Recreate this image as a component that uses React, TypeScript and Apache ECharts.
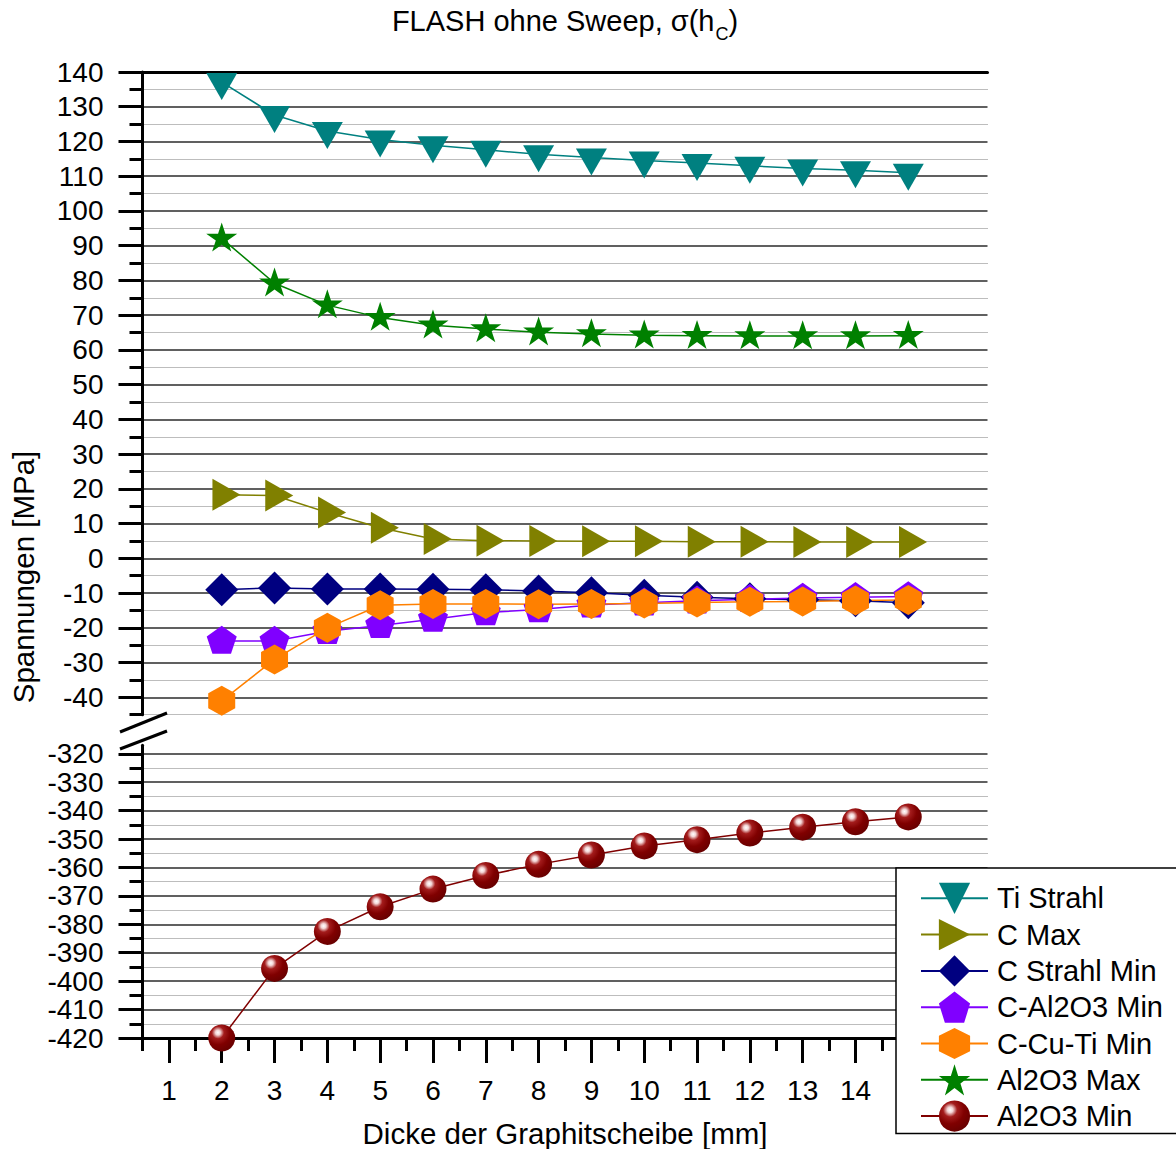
import React, { useEffect, useRef } from 'react';
import * as echarts from 'echarts';

// Graphite disc thickness [mm]
const thickness = [2, 3, 4, 5, 6, 7, 8, 9, 10, 11, 12, 13, 14, 15];

// Stresses [MPa]
const tiStrahl = [137.1, 127.6, 123.0, 120.6, 118.9, 117.6, 116.3, 115.4, 114.5, 113.8, 113.0, 112.2, 111.7, 111.0];
const cMax = [18.3, 18.1, 13.2, 8.8, 5.6, 5.1, 5.0, 4.9, 4.9, 4.8, 4.8, 4.7, 4.7, 4.7];
const cStrahlMin = [-9.0, -8.5, -8.8, -8.8, -8.9, -9.0, -9.4, -9.9, -10.6, -11.2, -11.6, -11.9, -12.2, -12.8];
const cAl2O3Min = [-23.8, -23.8, -21.0, -19.3, -17.5, -15.6, -14.7, -13.4, -12.8, -12.2, -11.8, -11.4, -11.2, -11.0];
const cCuTiMin = [-41.0, -29.1, -20.0, -13.5, -13.1, -13.1, -13.2, -13.1, -13.0, -12.7, -12.5, -12.4, -12.1, -12.0];
const al2o3Max = [92.1, 79.2, 72.9, 69.3, 67.1, 66.0, 65.1, 64.6, 64.2, 64.1, 64.0, 64.0, 64.0, 64.1];
const al2o3Min = [-420, -395.5, -382.5, -373.8, -367.6, -362.8, -358.9, -355.6, -352.4, -350.2, -347.9, -345.8, -343.9, -342.2];

// Axis ticks
const upperMajorTicks = [-40, -30, -20, -10, 0, 10, 20, 30, 40, 50, 60, 70, 80, 90, 100, 110, 120, 130, 140];
const upperMinorTicks = [-45, -35, -25, -15, -5, 5, 15, 25, 35, 45, 55, 65, 75, 85, 95, 105, 115, 125, 135];
const lowerMajorTicks = [-420, -410, -400, -390, -380, -370, -360, -350, -340, -330, -320];
const lowerMinorTicks = [-415, -405, -395, -385, -375, -365, -355, -345, -335, -325];
const xMajorTicks = [1, 2, 3, 4, 5, 6, 7, 8, 9, 10, 11, 12, 13, 14, 15, 16];
const xMinorTicks = [0.5, 1.5, 2.5, 3.5, 4.5, 5.5, 6.5, 7.5, 8.5, 9.5, 10.5, 11.5, 12.5, 13.5, 14.5, 15.5, 16.5];
const xTickLabels = [1, 2, 3, 4, 5, 6, 7, 8, 9, 10, 11, 12, 13, 14];

const FONT = "'Liberation Sans', Arial, Helvetica, sans-serif";

// Marker outlines (unit paths, scaled to symbolSize)
const TRI_DOWN = 'path://M0,0 L2,0 L1,1.732 Z';
const TRI_RIGHT = 'path://M0,0 L1.732,1 L0,2 Z';
const PENTAGON = 'path://M1,0 L1.951,0.691 L1.588,1.809 L0.412,1.809 L0.049,0.691 Z';
const HEXAGON = 'path://M1,0 L1.866,0.5 L1.866,1.5 L1,2 L0.134,1.5 L0.134,0.5 Z';
const STAR =
  'path://M1,0 L1.2245,0.691 L1.951,0.691 L1.3633,1.118 L1.588,1.809 L1,1.382 L0.412,1.809 L0.6367,1.118 L0.049,0.691 L0.7755,0.691 Z';

const App: React.FC = () => {
  const ref = useRef<HTMLDivElement>(null);

  useEffect(() => {
    if (!ref.current) return;
    const chart = echarts.init(ref.current, undefined, { renderer: 'svg' });

    const sphere = new echarts.graphic.RadialGradient(0.36, 0.3, 0.75, [
      { offset: 0, color: '#ffffff' },
      { offset: 0.12, color: '#f3d6d6' },
      { offset: 0.3, color: '#a31c1c' },
      { offset: 0.6, color: '#800000' },
      { offset: 1, color: '#660000' },
    ]);

    const line = (
      name: string,
      values: number[],
      color: string | object,
      lineColor: string,
      symbol: string,
      symbolSize: number[] | number,
      symbolOffset: number[],
      xAxisIndex: number,
      yAxisIndex: number
    ) => ({
      type: 'line',
      name,
      xAxisIndex,
      yAxisIndex,
      data: thickness.map((t, i) => [t, values[i]]),
      symbol,
      symbolSize,
      symbolOffset,
      showAllSymbol: true,
      lineStyle: { color: lineColor, width: 1.5 },
      itemStyle: { color, borderWidth: 0 },
      emphasis: { disabled: true },
    });

    const majorSplit = { show: true, lineStyle: { color: '#2b2b2b', width: 1.5, type: 'solid' } };
    const minorSplit = { show: true, lineStyle: { color: '#7a7a7a', width: 1, type: 'dotted' } };
    const tickLine = { color: '#000', width: 3 };
    const labelStyle = { color: '#000', fontSize: 28, fontFamily: FONT };

    chart.setOption({
      animation: false,
      backgroundColor: '#ffffff',
      title: {
        text: '{t|FLASH ohne Sweep, σ(h}{s|C}{t|)}',
        left: 565,
        top: 6,
        textAlign: 'center',
        padding: 0,
        textStyle: {
          fontWeight: 'normal',
          rich: {
            t: { fontSize: 29, fontFamily: FONT, fontWeight: 'normal', color: '#000', lineHeight: 29 },
            s: {
              fontSize: 18,
              fontFamily: FONT,
              fontWeight: 'normal',
              color: '#000',
              lineHeight: 18,
              padding: [26, 0, 0, 1],
            },
          },
        },
      },
      grid: [
        { left: 142.5, right: 188.5, top: 72, height: 642.7 },
        { left: 142.5, right: 188.5, top: 745.3, height: 295.7 },
      ],
      xAxis: [
        {
          gridIndex: 0,
          type: 'value',
          position: 'top',
          min: 0.5,
          max: 16.5,
          interval: 0.5,
          axisLine: { show: true, onZero: false, lineStyle: { color: '#000', width: 3 } },
          axisTick: { show: false },
          axisLabel: { show: false },
          splitLine: { show: false },
        },
        {
          gridIndex: 1,
          type: 'value',
          position: 'bottom',
          min: 0.5,
          max: 16.5,
          interval: 0.5,
          name: 'Dicke der Graphitscheibe [mm]',
          nameLocation: 'middle',
          nameGap: 80,
          nameTextStyle: { color: '#000', fontSize: 29.5, fontFamily: FONT },
          axisLine: { show: true, onZero: false, lineStyle: { color: '#000', width: 3 } },
          axisTick: { show: true, inside: false, length: 25, customValues: xMajorTicks, lineStyle: tickLine },
          axisLabel: { show: true, margin: 38, customValues: xTickLabels, ...labelStyle },
          splitLine: { show: false },
        },
        {
          gridIndex: 1,
          type: 'value',
          position: 'bottom',
          min: 0.5,
          max: 16.5,
          interval: 0.5,
          axisLine: { show: false, onZero: false },
          axisTick: { show: true, inside: false, length: 13, customValues: xMinorTicks, lineStyle: tickLine },
          axisLabel: { show: false },
          splitLine: { show: false },
        },
      ],
      yAxis: [
        {
          gridIndex: 0,
          type: 'value',
          position: 'left',
          min: -45,
          max: 140,
          interval: 5,
          axisLine: { show: false, onZero: false },
          axisTick: { show: true, length: 13, customValues: upperMinorTicks, lineStyle: tickLine },
          axisLabel: { show: false },
          splitLine: minorSplit,
        },
        {
          gridIndex: 0,
          type: 'value',
          position: 'left',
          min: -45,
          max: 140,
          interval: 5,
          axisLine: { show: true, onZero: false, lineStyle: { color: '#000', width: 3 } },
          axisTick: { show: true, length: 24, customValues: upperMajorTicks, lineStyle: tickLine },
          axisLabel: { show: true, margin: 39, customValues: upperMajorTicks, ...labelStyle },
          splitLine: majorSplit,
        },
        {
          gridIndex: 1,
          type: 'value',
          position: 'left',
          min: -420,
          max: -317,
          interval: 5,
          axisLine: { show: false, onZero: false },
          axisTick: { show: true, length: 13, customValues: lowerMinorTicks, lineStyle: tickLine },
          axisLabel: { show: false },
          splitLine: minorSplit,
        },
        {
          gridIndex: 1,
          type: 'value',
          position: 'left',
          min: -420,
          max: -317,
          interval: 5,
          axisLine: { show: true, onZero: false, lineStyle: { color: '#000', width: 3 } },
          axisTick: { show: true, length: 24, customValues: lowerMajorTicks, lineStyle: tickLine },
          axisLabel: { show: true, margin: 39, customValues: lowerMajorTicks, ...labelStyle },
          splitLine: majorSplit,
        },
      ],
      legend: {
        orient: 'vertical',
        left: 896,
        top: 868,
        padding: [14.7, 14, 1.8, 24],
        itemWidth: 67,
        itemHeight: 39,
        itemGap: 5.1,
        selectedMode: false,
        backgroundColor: '#ffffff',
        borderColor: '#000',
        borderWidth: 1.5,
        borderRadius: 0,
        textStyle: { color: '#000', fontSize: 29, fontFamily: FONT, padding: [0, 0, 0, 4] },
        data: ['Ti Strahl', 'C Max', 'C Strahl Min', 'C-Al2O3 Min', 'C-Cu-Ti Min', 'Al2O3 Max', 'Al2O3 Min'],
      },
      graphic: [
        // axis break marks
        { type: 'line', z: 10, shape: { x1: 120, y1: 732, x2: 167, y2: 713 }, style: { stroke: '#000', lineWidth: 3 } },
        { type: 'line', z: 10, shape: { x1: 120, y1: 749, x2: 167, y2: 731 }, style: { stroke: '#000', lineWidth: 3 } },
        {
          type: 'text',
          x: 23,
          y: 577,
          rotation: Math.PI / 2,
          style: {
            text: 'Spannungen [MPa]',
            fill: '#000',
            font: `29.5px ${FONT}`,
            textAlign: 'center',
            textVerticalAlign: 'middle',
          },
        },
      ],
      series: [
        line('Ti Strahl', tiStrahl, '#008080', '#008080', TRI_DOWN, [31, 27], [0, 4.5], 0, 1),
        line('C Max', cMax, '#808000', '#808000', TRI_RIGHT, [28, 32], [4.7, 0], 0, 1),
        line('C Strahl Min', cStrahlMin, '#000080', '#000080', 'diamond', [33, 33], [0, 0], 0, 1),
        line('C-Al2O3 Min', cAl2O3Min, '#8000ff', '#8000ff', PENTAGON, [30, 28], [0, -1.3], 0, 1),
        line('C-Cu-Ti Min', cCuTiMin, '#ff8000', '#ff8000', HEXAGON, [27, 30], [0, 0], 0, 1),
        line('Al2O3 Max', al2o3Max, '#008000', '#008000', STAR, [31, 29], [0, -1.3], 0, 1),
        line('Al2O3 Min', al2o3Min, sphere, '#800000', 'circle', 27, [0, 0], 1, 3),
      ],
    });

    return () => chart.dispose();
  }, []);

  return <div ref={ref} style={{ position: 'absolute', left: 0, top: 0, width: 1176, height: 1149 }} />;
};

export default App;
